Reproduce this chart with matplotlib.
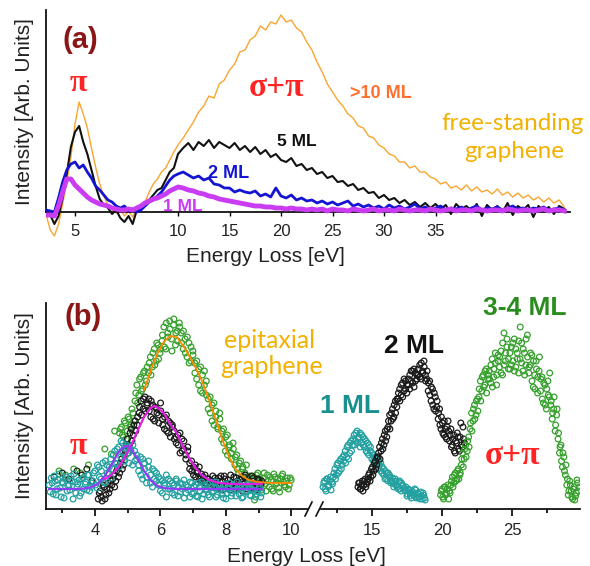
import numpy as np
import matplotlib
matplotlib.use("Agg")
import matplotlib.pyplot as plt

W, H = 590, 566

# ---------------- panel (a): free-standing graphene spectra ----------------
energy_a = np.concatenate([np.arange(3.6, 9.81, 0.2), np.arange(10.0, 47.51, 0.5)])

ml10_a = [-3, -18, -24, -12, 8, 30, 55, 88, 110, 98, 84, 64, 45, 28, 16, 7,
          2, -1, 3, -4, 1, -5, 3, 4, 10, 20, 28, 33, 40, 44, 52, 60,
          67, 74, 82, 90, 100, 106, 116, 114, 128, 132,
          142, 148, 160, 162, 172, 176, 186, 182, 190, 188,
          197, 190, 192, 184, 180, 170, 162, 150, 140, 128,
          120, 112, 106, 98, 94, 86, 84, 76, 74, 67,
          64, 58, 56, 50, 50, 44, 46, 40, 40, 35,
          33, 28, 30, 24, 26, 22, 27, 21, 25, 20,
          22, 18, 23, 17, 20, 15, 19, 14, 17, 12,
          15, 10, 14, 9, 12, 5]

ml5_a = [1, -3, -12, -4, 14, 38, 65, 80, 86, 70, 58, 42, 26, 13, 7, 4,
         -2, 2, -6, -10, -4, -12, 2, 4, 8, 12, 17, 22, 24, 32, 40, 44,
         58, 64, 69, 62, 70, 66, 72, 64, 70, 67,
         64, 69, 62, 66, 60, 65, 58, 62, 55, 58,
         52, 50, 54, 46, 48, 42, 44, 38, 40, 34,
         36, 30, 31, 26, 28, 22, 24, 19, 20, 14,
         17, 12, 14, 9, 12, 7, 10, 5, 9, 4,
         8, 3, 7, -2, 8, 3, 6, 1, 8, -4,
         7, 2, 6, 0, 9, -3, 6, 2, 7, -5,
         6, 1, 5, -2, 6, 3]

ml2_a = [2, 1, 0, 14, 30, 42, 48, 50, 44, 47, 40, 34, 26, 22, 17, 12,
         10, 6, 4, 6, 1, 3, 0, 2, 6, 10, 12, 16, 20, 26, 32, 36,
         38, 40, 37, 34, 36, 32, 34, 28, 27, 24,
         24, 20, 22, 20, 19, 21, 16, 18, 15, 24,
         16, 14, 17, 12, 14, 11, 12, 9, 11, 8,
         10, 7, 9, 11, 6, 8, 5, 7, 4, 6,
         3, 7, 4, 6, 3, 5, 8, 3, 5, 2,
         4, 6, 2, 4, 3, 5, 2, 4, 6, 2,
         4, 3, 5, 2, 4, 6, 3, 4, 2, 4,
         3, 5, 2, 3, 4, 2]

ml1_a = [-3, -3, -4, 6, 20, 33, 33, 27, 23, 19, 15, 12, 10, 8, 7, 6,
         4, 3, 2, 2, 3, 2, 4, 6, 9, 11, 13, 14, 16, 18, 21, 23,
         25, 24, 22, 21, 19, 18, 16, 15, 13, 12,
         11, 10, 9, 8, 7, 6, 6, 5, 5, 4,
         4, 3, 4, 3, 3, 2, 3, 2, 3, 1,
         3, 2, 2, 1, 3, 2, 1, 2, 3, 1,
         2, 2, 1, 3, 2, 1, 2, 2, 1, 3,
         2, 1, 2, 3, 1, 2, 2, 1, 3, 2,
         1, 2, 2, 1, 3, 2, 1, 2, 2, 1,
         2, 3, 1, 2, 2, 1]

ticks_a = [5, 10, 15, 20, 25, 30, 35]

# ---------------- panel (b): epitaxial graphene, measured points + fits ----------------
# each cloud is read as two passes across the band of points
teal_lo = [24, 31, 15, 28, 20, 35, 12, 26, 30, 18, 24, 33, 10, 27, 22, 29, 16, 31, 25, 19, 34, 22,
           28, 38, 21, 42, 30, 46, 26, 44, 35, 50,
           40, 58, 45, 62, 52, 66, 48, 64, 56, 60, 44, 58, 50,
           38, 52, 30, 46, 26, 42, 34, 22, 38, 28,
           32, 18, 28, 24, 12, 30, 20, 26, 14, 28, 22, 17, 25, 11, 24, 19, 27, 15,
           22, 13, 26, 18, 10, 24, 20, 14, 27, 17, 21, 12, 25, 19, 15, 23, 10, 20,
           26, 16, 22, 13, 19, 24, 11, 21, 17, 25, 14, 20, 23, 12, 18, 22, 16]
teal_lo2 = [17, 26, 33, 14, 29, 21, 27, 11, 32, 23, 19, 28, 35, 16, 25, 13, 30, 20, 27, 34, 18, 26,
            36, 24, 44, 32, 38, 27, 48, 36, 42, 31,
            54, 46, 60, 42, 68, 56, 52, 62, 46, 58, 64, 48, 54,
            44, 34, 50, 40, 32, 48, 26, 40, 30, 36,
            24, 30, 16, 26, 34, 20, 28, 16, 24, 30, 13, 26, 20, 29, 16, 22, 12, 26,
            16, 24, 12, 22, 27, 15, 19, 25, 12, 22, 18, 27, 14, 23, 20, 11, 25, 16,
            21, 13, 24, 19, 27, 15, 21, 12, 23, 18, 26, 13, 19, 24, 15, 20, 12]
black_lo = [10, 18, 8, 22, 14, 26, 20,
            24, 34, 28, 42, 36, 50, 44,
            58, 70, 64, 80, 74, 88, 84,
            96, 108, 100, 112, 104,
            110, 92, 104, 88, 100, 94, 106,
            90, 80, 94, 76, 86, 82, 78,
            72, 64, 76, 58, 68, 54, 62,
            46, 38, 42, 32, 38, 30, 35,
            32, 26, 30, 22, 28, 24, 31,
            28, 22, 33, 19, 30, 25, 21, 34, 26, 20, 31, 24, 29, 18, 32, 23, 27, 21,
            33, 25, 19, 30, 24, 28]
black_lo2 = [16, 12, 24, 10, 20, 16, 28,
             30, 22, 38, 32, 46, 40, 54,
             64, 56, 76, 68, 84, 78, 92,
             102, 94, 110, 98, 106,
             98, 108, 90, 102, 96, 86, 98,
             84, 92, 78, 88, 72, 84, 70,
             66, 74, 56, 70, 60, 50, 58,
             40, 48, 34, 44, 36, 42, 28,
             28, 34, 24, 30, 26, 33, 22,
             24, 31, 20, 27, 33, 22, 29, 19, 26, 32, 23, 28, 21, 30, 25, 34, 20, 27,
             23, 31, 26, 22, 29, 25]
green_lo = [76, 82, 72, 86, 78, 90, 84, 96,
            108, 124, 114, 132, 120, 138, 128,
            136, 152, 142, 160, 148, 164, 156,
            168, 182, 160, 176, 188, 170, 184, 164, 178, 186,
            176, 160, 170, 152, 166, 148, 158,
            146, 130, 140, 118, 134, 124, 114,
            110, 96, 104, 84, 98, 80, 90,
            78, 66, 72, 54, 64, 50, 60,
            52, 40, 46, 32, 42, 36, 30,
            32, 24, 28, 9, 34, 22, 30, 26, 36, 18, 28, 32, 20, 35, 25, 30, 17, 33,
            27, 22, 31, 24, 29]
green_lo2 = [80, 74, 88, 70, 92, 82, 100, 88,
             116, 106, 130, 118, 136, 124, 142,
             146, 134, 156, 144, 166, 150, 160,
             174, 162, 186, 172, 180, 158, 190, 176, 168, 182,
             166, 178, 156, 172, 146, 162, 154,
             136, 148, 124, 142, 116, 138, 128,
             100, 112, 88, 106, 92, 82, 96,
             70, 80, 58, 74, 62, 56, 66,
             44, 54, 36, 48, 40, 34, 44,
             26, 33, 20, 30, 24, 36, 28, 19, 31, 25, 34, 22, 29, 18, 32, 26, 21, 30,
             35, 24, 28, 20, 31]
black_sparse_e = [2.75, 3.0, 3.2, 3.45, 3.6, 3.75, 3.9]
black_sparse_i = [32, 36, 30, 38, 34, 40, 28]
green_sparse_e = [2.9, 3.1, 3.35, 3.55, 3.8, 4.3, 4.5, 4.6]
green_sparse_i = [38, 34, 40, 36, 44, 60, 55, 78]

teal_hi = [22, 28, 18, 30, 24, 32, 27,
           32, 40, 34, 46, 38, 50, 44,
           48, 58, 52, 64, 56, 68,
           64, 74, 68, 78, 70, 76, 66,
           72, 62, 68, 56, 64, 58,
           56, 48, 52, 42, 50, 44, 46,
           42, 34, 38, 30, 36, 32, 28,
           31, 25, 28, 22, 27, 20, 26, 23, 19,
           22, 15, 19, 13, 18, 14, 20, 11, 16, 12, 17, 10, 14, 9]
teal_hi2 = [26, 20, 30, 22, 28, 19, 25,
            36, 30, 44, 36, 48, 40, 52,
            54, 46, 62, 50, 66, 58,
            70, 64, 76, 66, 72, 62, 74,
            64, 70, 58, 66, 54, 62,
            50, 54, 44, 50, 40, 48, 38,
            36, 40, 30, 36, 28, 34, 26,
            27, 22, 30, 24, 20, 28, 18, 24, 21,
            18, 13, 20, 16, 11, 17, 14, 19, 12, 15, 10, 13, 16, 11]
black_hi = [22, 26, 20, 28, 24, 30, 25,
            30, 36, 32, 42, 38, 48, 44,
            52, 62, 58, 70, 64, 78, 72,
            82, 94, 88, 100, 92, 108, 102,
            110, 120, 114, 126, 118, 128, 116,
            124, 134, 128, 138, 122, 136, 130,
            140, 132, 146, 136, 142, 128, 138,
            126, 114, 122, 104, 116, 98, 108,
            96, 84, 92, 76, 88, 72, 82, 78,
            74, 62, 70, 58, 68, 76, 60, 72, 64, 82, 66]
black_hi2 = [26, 20, 24, 18, 28, 22, 27,
             34, 28, 40, 34, 46, 40, 52,
             56, 50, 66, 60, 74, 68, 80,
             88, 80, 96, 90, 104, 96, 110,
             116, 108, 124, 112, 130, 120, 124,
             130, 120, 138, 126, 140, 128, 134,
             134, 144, 130, 138, 148, 134, 130,
             118, 128, 108, 120, 100, 112, 102,
             90, 100, 80, 86, 74, 80, 70, 88,
             68, 80, 64, 74, 56, 66, 72, 58, 86, 62, 70]
green_hi = [14, 20, 10, 22, 16, 24, 18,
            24, 32, 26, 36, 30, 40, 34,
            44, 56, 50, 64, 58, 72,
            80, 96, 88, 104, 94, 110,
            112, 128, 118, 134, 124, 140, 130,
            138, 126, 150, 132, 146, 124, 154,
            142, 158, 134, 176, 148, 162, 140,
            156, 144, 166, 138, 160, 150, 168,
            182, 146, 160, 134, 170, 152, 142,
            156, 128, 148, 120, 140, 132, 152,
            130, 110, 126, 104, 120, 114, 136,
            108, 96, 112, 84, 100, 76,
            62, 48, 56, 38, 44,
            30, 18, 24, 12, 20, 9, 16, 26, 22]
green_hi2 = [18, 12, 22, 14, 20, 10, 16,
             28, 22, 34, 28, 38, 30, 36,
             50, 42, 60, 52, 68, 62,
             86, 78, 100, 90, 108, 98,
             120, 108, 132, 122, 138, 116, 134,
             130, 144, 122, 140, 156, 134, 148,
             152, 136, 166, 144, 156, 170, 150,
             140, 162, 148, 170, 142, 156, 136,
             150, 166, 138, 156, 144, 174, 136,
             144, 154, 122, 134, 148, 116, 138,
             118, 132, 106, 124, 100, 128, 112,
             104, 90, 100, 78, 94, 70,
             56, 64, 42, 52, 34,
             24, 14, 28, 18, 10, 22, 13, 29, 18]

fit_teal_e = [2.6, 3.0, 3.4, 3.7, 3.9, 4.1, 4.3, 4.5, 4.7, 4.9, 5.0, 5.1, 5.3, 5.5, 5.7, 5.9,
              6.1, 6.3, 6.6, 7.0, 7.5, 8.0, 8.5, 9.1]
fit_teal_i = [20, 20, 20, 20.5, 22, 25.5, 33, 44, 56, 62.7, 63, 60.3, 50.4, 38.2, 28.7, 23.3,
              21, 20.3, 20, 20, 20, 20, 20, 20]
fit_black_e = [4.3, 4.5, 4.7, 4.9, 5.1, 5.3, 5.5, 5.7, 5.8, 5.9, 6.1, 6.3, 6.5, 6.7, 6.9, 7.1,
               7.3, 7.5, 7.8, 8.2, 8.6, 9.1]
fit_black_i = [30, 34, 41, 51, 63, 78, 92, 101, 103, 102, 96, 85, 76, 62, 50, 40,
               33, 29, 26, 25, 25, 25]
fit_green_e = [5.5, 5.7, 5.9, 6.1, 6.3, 6.5, 6.7, 6.9, 7.1, 7.3, 7.5, 7.7, 7.9, 8.1, 8.3, 8.5,
               8.7, 9.0, 9.4, 10.0]
fit_green_i = [119, 138, 155, 167, 173, 172, 163, 152, 140, 126, 108, 89, 69, 52, 40, 33,
               29, 27, 26, 26]

ticks_b = [4, 6, 8, 10, 15, 20, 25]
minor_b = [3, 5, 7, 9, 12.5, 17.5, 22.5, 27.5]


# piecewise energy axes (the original stretches the low-energy part)
def fwd_a(e):
    e = np.asarray(e, dtype=float)
    return np.where(e <= 10, 2 * e - 10, e)

def inv_a(u):
    u = np.asarray(u, dtype=float)
    return np.where(u <= 10, (u + 10) / 2, u)

E_BREAK = 10.58

def fwd_b(e):
    e = np.asarray(e, dtype=float)
    return np.where(e <= E_BREAK, 95 + (e - 4) * 32.7, 372 + (e - 15) * 14.0)

def inv_b(u):
    u = np.asarray(u, dtype=float)
    ub = 95 + (E_BREAK - 4) * 32.7
    return np.where(u <= ub, 4 + (u - 95) / 32.7, 15 + (u - 372) / 14.0)


def fx(x):
    return x / W

def fy(y):
    return 1 - y / H


plt.rcParams['font.family'] = ['Liberation Sans', 'DejaVu Sans']
fig = plt.figure(figsize=(W / 100, H / 100), dpi=100)

TXT = '#222222'
SERIF = ['Liberation Serif', 'DejaVu Serif']
HUMAN = ['Lato', 'DejaVu Sans']
RED = '#ff2424'
GOLD = '#f2b100'

# ---------- (a) ----------
ax = fig.add_axes([fx(46), fy(242), fx(570) - fx(46), fy(10) - fy(242)])
ax.set_xscale('function', functions=(fwd_a, inv_a))
ax.plot(energy_a, ml10_a, color='#f9a530', lw=1.0, zorder=2)
ax.plot(energy_a, ml5_a, color='#111111', lw=1.5, zorder=3)
ax.plot(energy_a, ml2_a, color='#1414d2', lw=2.0, zorder=4)
ax.plot(energy_a, ml1_a, color='#c93cf2', lw=3.5, zorder=5)
ax.set_xlim(inv_a(-29 / 10.3), inv_a(495 / 10.3))
ax.set_ylim(-30, 202)
ax.spines['top'].set_visible(False)
ax.spines['right'].set_visible(False)
ax.spines['bottom'].set_position(('data', 0))
ax.spines['left'].set_bounds(0, 202)
for s in ('left', 'bottom'):
    ax.spines[s].set_linewidth(1.3)
    ax.spines[s].set_color('#111111')
ax.set_yticks([])
ax.set_xticks(ticks_a)
ax.set_xticklabels([str(t) for t in ticks_a])
ax.xaxis.set_minor_locator(matplotlib.ticker.NullLocator())
ax.tick_params(axis='x', length=3, width=1, pad=6, labelsize=12, labelcolor=TXT)
ax.patch.set_alpha(0)

fig.text(fx(25), fy(112), 'Intensity [Arb. Units]', rotation=90, ha='center', va='center',
         fontsize=15, color=TXT)
fig.text(fx(265), fy(257), 'Energy Loss [eV]', ha='center', va='center', fontsize=15, color=TXT)
fig.text(fx(80), fy(40), '(a)', ha='center', va='center', fontsize=21, fontweight='bold',
         color='#8c1515')
fig.text(fx(78), fy(84), 'π', ha='center', va='center', fontsize=23, fontweight='bold',
         color=RED, family=SERIF)
fig.text(fx(276), fy(88), 'σ+π', ha='center', va='center', fontsize=24, fontweight='bold',
         color=RED, family=SERIF)
fig.text(fx(381), fy(93), '>10 ML', ha='center', va='center', fontsize=13, fontweight='bold',
         color='#ff7030')
fig.text(fx(513), fy(123), 'free-standing', ha='center', va='center', fontsize=17.5,
         color=GOLD, family=HUMAN)
fig.text(fx(514), fy(151), 'graphene', ha='center', va='center', fontsize=17.5,
         color=GOLD, family=HUMAN)
fig.text(fx(297), fy(142), '5 ML', ha='center', va='center', fontsize=12.5, fontweight='bold',
         color='#111111')
fig.text(fx(229), fy(173), '2 ML', ha='center', va='center', fontsize=13, fontweight='bold',
         color='#1414d2')
fig.text(fx(183), fy(207), '1 ML', ha='center', va='center', fontsize=12.5, fontweight='bold',
         color='#c93cf2')

# ---------- (b) ----------
bx = fig.add_axes([fx(46), fy(509), fx(580) - fx(46), fy(303) - fy(509)])
bx.set_xscale('function', functions=(fwd_b, inv_b))

TEAL = '#23a0a0'
GREEN = '#35a02c'
BLK = '#1a1a1a'
mk = dict(s=17, facecolors='none', linewidths=0.9, zorder=3)

def cloud(e0, e1, first, second, color):
    bx.scatter(np.linspace(e0, e1, len(first)), first, edgecolors=color, **mk)
    step = (e1 - e0) / (len(second) - 1)
    bx.scatter(np.linspace(e0 + step / 2, e1 - step / 2, len(second)), second,
               edgecolors=color, **mk)

cloud(4.75, 10.0, green_lo, green_lo2, GREEN)
bx.scatter(green_sparse_e, green_sparse_i, edgecolors=GREEN, **mk)
cloud(4.1, 9.1, black_lo, black_lo2, BLK)
bx.scatter(black_sparse_e, black_sparse_i, edgecolors=BLK, **mk)
cloud(2.6, 9.1, teal_lo, teal_lo2, TEAL)
bx.plot(fit_green_e, fit_green_i, color='#ff8a00', lw=1.3, zorder=5)
bx.plot(fit_black_e, fit_black_i, color='#e020e0', lw=1.6, zorder=5)
bx.plot(fit_teal_e, fit_teal_i, color='#8f3cf5', lw=1.6, zorder=5)

cloud(11.5, 18.8, teal_hi, teal_hi2, TEAL)
cloud(14.0, 21.6, black_hi, black_hi2, BLK)
cloud(19.9, 29.8, green_hi, green_hi2, GREEN)

bx.set_xlim(inv_b(46), inv_b(580))
bx.set_ylim(0, 206)
bx.spines['top'].set_visible(False)
bx.spines['right'].set_visible(False)
for s in ('left', 'bottom'):
    bx.spines[s].set_linewidth(1.3)
    bx.spines[s].set_color('#111111')
bx.set_yticks([])
bx.set_xticks(ticks_b)
bx.set_xticklabels([str(t) for t in ticks_b])
bx.set_xticks(minor_b, minor=True)
bx.tick_params(axis='x', which='major', length=5, width=1.2, pad=5, labelsize=12, labelcolor=TXT)
bx.tick_params(axis='x', which='minor', length=3, width=1.2)
bx.patch.set_alpha(0)

# axis break marks
def ax_frac(px):
    return (px - 46) / (580 - 46)

bx.add_patch(plt.Rectangle((ax_frac(309), -0.02), ax_frac(319) - ax_frac(309), 0.04,
                           transform=bx.transAxes, color='white', clip_on=False, zorder=6))
for x0 in (305, 316):
    bx.plot([ax_frac(x0), ax_frac(x0 + 7)], [-0.034, 0.034], transform=bx.transAxes,
            color='#111111', lw=1.2, clip_on=False, zorder=7)

fig.text(fx(25), fy(406), 'Intensity [Arb. Units]', rotation=90, ha='center', va='center',
         fontsize=15, color=TXT)
fig.text(fx(306), fy(557), 'Energy Loss [eV]', ha='center', va='center', fontsize=15, color=TXT)
fig.text(fx(83), fy(317), '(b)', ha='center', va='center', fontsize=21, fontweight='bold',
         color='#8c1515')
fig.text(fx(78), fy(446), 'π', ha='center', va='center', fontsize=23, fontweight='bold',
         color=RED, family=SERIF)
fig.text(fx(513), fy(455), 'σ+π', ha='center', va='center', fontsize=24, fontweight='bold',
         color=RED, family=SERIF)
fig.text(fx(270), fy(341), 'epitaxial', ha='center', va='center', fontsize=18,
         color=GOLD, family=HUMAN)
fig.text(fx(272), fy(367), 'graphene', ha='center', va='center', fontsize=18,
         color=GOLD, family=HUMAN)
fig.text(fx(414), fy(346), '2 ML', ha='center', va='center', fontsize=19, fontweight='bold',
         color='#111111')
fig.text(fx(350), fy(406), '1 ML', ha='center', va='center', fontsize=19, fontweight='bold',
         color='#1a9090')
fig.text(fx(525), fy(308), '3-4 ML', ha='center', va='center', fontsize=19, fontweight='bold',
         color='#2b8c1f')

fig.savefig('out.png', dpi=100)
